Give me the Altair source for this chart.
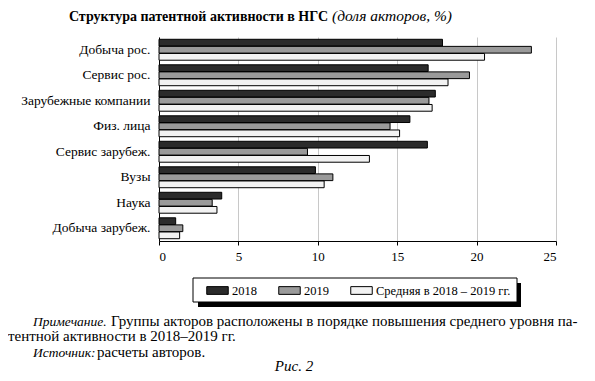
import altair as alt
import pandas as pd

categories = ["Добыча рос.", "Сервис рос.", "Зарубежные компании", "Физ. лица",
              "Сервис зарубеж.", "Вузы", "Наука", "Добыча зарубеж."]
series = ["2018", "2019", "Средняя в 2018 – 2019 гг."]
v2018 = [17.85, 16.95, 17.4, 15.8, 16.9, 9.85, 3.95, 1.05]
v2019 = [23.45, 19.55, 17.0, 14.55, 9.35, 10.95, 3.35, 1.5]
vavg = [20.5, 18.2, 17.2, 15.15, 13.25, 10.4, 3.65, 1.3]
colors = ["#2b2b2b", "#9a9a9a", "#f2f2f2"]
x_ticks = [0, 5, 10, 15, 20, 25]

title_bold = "Структура патентной активности в НГС"
title_italic = "(доля акторов, %)"
note1_it = "Примечание."
note1 = "Группы акторов расположены в порядке повышения среднего уровня па-"
note2 = "тентной активности в 2018–2019 гг."
note3_it = "Источник:"
note3 = "расчеты авторов."
fig = "Рис. 2"

rows = []
for vals, s in zip([v2018, v2019, vavg], series):
    for c, v in zip(categories, vals):
        rows.append({"category": c, "series": s, "value": v})
df = pd.DataFrame(rows)

SERIF = "Liberation Serif"

bars = alt.Chart(df).mark_bar(stroke="black", strokeWidth=1).encode(
    x=alt.X("value:Q", scale=alt.Scale(domain=[0, 25], nice=False),
            axis=alt.Axis(values=x_ticks, grid=True, gridColor="#c8c8c8", domainColor="black",
                          tickColor="black", tickSize=4, labelFont=SERIF, labelFontSize=13,
                          labelColor="black", labelPadding=5, title=None)),
    y=alt.Y("category:N", sort=categories,
            scale=alt.Scale(paddingInner=0.18, paddingOuter=0.09),
            axis=alt.Axis(title=None, ticks=False, domainColor="black", labelFont=SERIF,
                          labelFontSize=13.5, labelColor="black", labelPadding=9)),
    yOffset=alt.YOffset("series:N", sort=series, scale=alt.Scale(paddingInner=0.05)),
    fill=alt.Fill("series:N", sort=series, scale=alt.Scale(domain=series, range=colors),
                  legend=alt.Legend(orient="none", legendX=47, legendY=242, direction="horizontal",
                                    title=None, symbolType="M-1,-0.36H1V0.36H-1Z", symbolSize=462,
                                    symbolStrokeColor="black", symbolStrokeWidth=1,
                                    labelFont=SERIF, labelFontSize=12.5, labelColor="black",
                                    labelOffset=3, columnPadding=19, padding=0)),
)

one = pd.DataFrame({"a": [0]})
shadow = alt.Chart(one).mark_rect(fill="black").encode(
    x=alt.value(39), x2=alt.value(362), y=alt.value(246), y2=alt.value(270))
box = alt.Chart(one).mark_rect(fill="white", stroke="black", strokeWidth=1).encode(
    x=alt.value(34), x2=alt.value(358), y=alt.value(241), y2=alt.value(265))

def txt(t, x, y, size=15, weight="normal", style="normal", align="left"):
    return alt.Chart(pd.DataFrame({"t": [t]})).mark_text(
        font=SERIF, fontSize=size, fontWeight=weight, fontStyle=style, align=align,
        baseline="alphabetic", color="black").encode(text="t:N", x=alt.value(x), y=alt.value(y))

texts = [
    txt(title_bold, 169, -16, size=14, weight="bold", align="right"),
    txt(title_italic, 173, -16, size=15.5, style="italic"),
    txt(note1_it, -126, 289, size=13.5, style="italic"),
    txt(note1, -48, 289),
    txt(note2, -151, 304),
    txt(note3_it, -126, 320, size=13.5, style="italic"),
    txt(note3, -62, 320),
    txt(fig, 135, 334, size=15, style="italic", align="center"),
]

chart = alt.layer(shadow, box, bars, *texts).properties(
    width=397, height=204,
    autosize=alt.AutoSizeParams(type="none"),
    padding={"left": 151, "top": 29, "right": 31, "bottom": 132},
).configure_view(stroke=None)

chart.save("out.html", embed_options={"renderer": "svg", "actions": False})
